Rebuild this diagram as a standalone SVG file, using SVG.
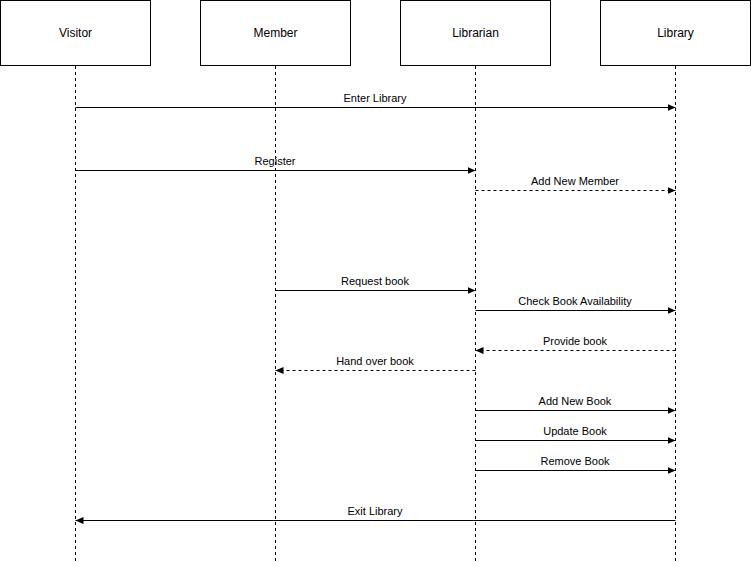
<svg xmlns="http://www.w3.org/2000/svg" width="751" height="562" viewBox="0 0 751 562">
  <style>
    .box { fill: #ffffff; stroke: #000000; stroke-width: 1; }
    .life { stroke: #000000; stroke-width: 1; stroke-dasharray: 3 3; fill: none; }
    .name { font-family: "Liberation Sans", Arial, sans-serif; font-size: 12px; fill: #000000; text-anchor: middle; }
    .msg { stroke: #000000; stroke-width: 1; fill: none; marker-end: url(#arrow); }
    .reply { stroke-dasharray: 3 3; }
    .lbl { font-family: "Liberation Sans", Arial, sans-serif; font-size: 11px; fill: #000000; text-anchor: middle; }
  </style>
  <defs>
    <marker id="arrow" viewBox="0 0 8 8" refX="8" refY="4" markerWidth="8" markerHeight="8" markerUnits="userSpaceOnUse" orient="auto">
      <path d="M0,0.5 L8,4 L0,7.5 Z" fill="#000000"/>
    </marker>
  </defs>
  <rect width="751" height="562" fill="#ffffff"/>

  <g id="visitor">
    <rect class="box" x="0.5" y="0.5" width="150" height="65"/>
    <text class="name" x="75.5" y="37">Visitor</text>
    <line class="life" x1="75.5" y1="66" x2="75.5" y2="562"/>
  </g>
  <g id="member">
    <rect class="box" x="200.5" y="0.5" width="150" height="65"/>
    <text class="name" x="275.5" y="37">Member</text>
    <line class="life" x1="275.5" y1="66" x2="275.5" y2="562"/>
  </g>
  <g id="librarian">
    <rect class="box" x="400.5" y="0.5" width="150" height="65"/>
    <text class="name" x="475.5" y="37">Librarian</text>
    <line class="life" x1="475.5" y1="66" x2="475.5" y2="562"/>
  </g>
  <g id="library">
    <rect class="box" x="600.5" y="0.5" width="150" height="65"/>
    <text class="name" x="675.5" y="37">Library</text>
    <line class="life" x1="675.5" y1="66" x2="675.5" y2="562"/>
  </g>

  <g id="connectors">
    <line class="msg" x1="75.5" y1="107.5" x2="675.5" y2="107.5"/>
    <text class="lbl" x="375" y="102">Enter Library</text>

    <line class="msg" x1="75.5" y1="170.5" x2="475.5" y2="170.5"/>
    <text class="lbl" x="275" y="165">Register</text>

    <line class="msg reply" x1="475.5" y1="190.5" x2="675.5" y2="190.5"/>
    <text class="lbl" x="575" y="185">Add New Member</text>

    <line class="msg" x1="275.5" y1="290.5" x2="475.5" y2="290.5"/>
    <text class="lbl" x="375" y="285">Request book</text>

    <line class="msg" x1="475.5" y1="310.5" x2="675.5" y2="310.5"/>
    <text class="lbl" x="575" y="305">Check Book Availability</text>

    <line class="msg reply" x1="675.5" y1="350.5" x2="475.5" y2="350.5"/>
    <text class="lbl" x="575" y="345">Provide book</text>

    <line class="msg reply" x1="475.5" y1="370.5" x2="275.5" y2="370.5"/>
    <text class="lbl" x="375" y="365">Hand over book</text>

    <line class="msg" x1="475.5" y1="410.5" x2="675.5" y2="410.5"/>
    <text class="lbl" x="575" y="405">Add New Book</text>

    <line class="msg" x1="475.5" y1="440.5" x2="675.5" y2="440.5"/>
    <text class="lbl" x="575" y="435">Update Book</text>

    <line class="msg" x1="475.5" y1="470.5" x2="675.5" y2="470.5"/>
    <text class="lbl" x="575" y="465">Remove Book</text>

    <line class="msg" x1="675.5" y1="520.5" x2="75.5" y2="520.5"/>
    <text class="lbl" x="375" y="515">Exit Library</text>
  </g>
</svg>
